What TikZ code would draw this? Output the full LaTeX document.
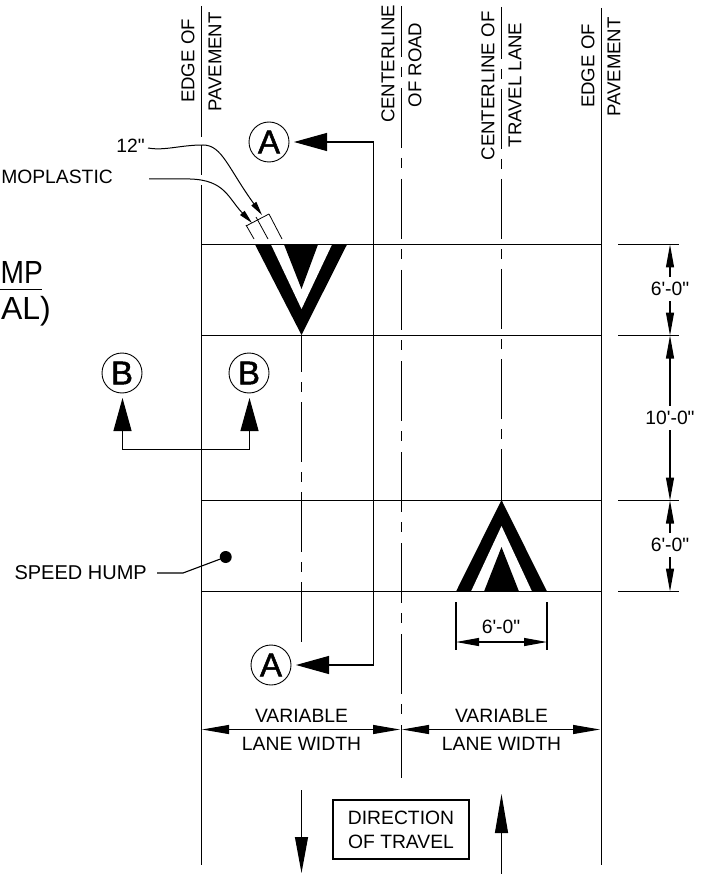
\documentclass[tikz,border=0pt]{standalone}
\usepackage{fontspec}
\setmainfont{Liberation Sans}
\newfontface\cutfont[FakeBold=1.5]{Liberation Sans}
\usetikzlibrary{arrows.meta}

\newcommand{\ft}{\textquotesingle}
\newcommand{\inch}{\textquotedbl}

\tikzset{
  lbl/.style={inner sep=0pt,font=\fontsize{19.3}{24}\selectfont,align=center},
  widelbl/.style={inner sep=0pt,font=\fontsize{20}{24}\selectfont},
  vlbl/.style={inner sep=0pt,rotate=90,font=\fontsize{18.6}{22}\selectfont},
  bigtext/.style={inner sep=0pt,font=\fontsize{32}{36}\selectfont},
  cutmark/.style={draw,circle,minimum size=40pt,inner sep=0pt,line width=.9pt,font=\fontsize{33}{36}\cutfont},
  cutline/.style={line width=1.1pt,-{Triangle[length=33pt,width=18pt]}},
  dimline/.style={line width=1.1pt,-{Triangle[length=23pt,width=8pt]}},
  varline/.style={line width=1.1pt,{Triangle[length=27pt,width=9pt]}-{Triangle[length=27pt,width=9pt]}},
  leader/.style={line width=1pt,-{Triangle[length=14pt,width=6pt]}},
  plain/.style={line width=1.1pt},
  cl/.style={line width=1.1pt,dash pattern=on 60pt off 10pt on 10pt off 10pt}
}

\begin{document}
\begin{tikzpicture}[x=1pt,y=-1pt]
      \useasboundingbox (0,0) rectangle (702,874);
      \fill[black] (255,244.5) -- (347,244.5) -- (301.5,335) -- cycle; %top chevron
      \fill[white] (271,244.5) -- (332,244.5) -- (301.5,309) -- cycle;
      \fill[black] (284,244.5) -- (318,244.5) -- (301.5,289) -- cycle;
      \fill[black] (456,591.5) -- (547,591.5) -- (501.5,500) -- cycle; %bottom chevron
      \fill[white] (471,591.5) -- (532,591.5) -- (501.5,526) -- cycle;
      \fill[black] (484,591.5) -- (519,591.5) -- (501.5,547) -- cycle;

      \draw[plain] (201.5,6) -- (201.5,137) (201.5,145) -- (201.5,175) (201.5,185) -- (201.5,865); %edges
      \draw[plain] (601.5,8) -- (601.5,865);
      \draw[cl,dash pattern=on 60pt off 10pt on 10pt off 11pt,dash phase=9pt] (401.5,6) -- (401.5,778); %centerlines
      \draw[cl,dash phase=8pt] (501.5,7) -- (501.5,503);
      \draw[cl,dash phase=23pt] (301.5,335) -- (301.5,643);
      \foreach \y in {244.5,335.5,500.5,591.5}{
        \draw[plain] (201.5,\y) -- (601.5,\y);
        \draw[plain] (618,\y) -- (679,\y);
      }

      \node[vlbl] (edgeA) at (188,61) {EDGE OF};
      \node[vlbl] (paveA) at (215,62) {PAVEMENT};
      \node[vlbl] (roadA) at (388,64) {CENTERLINE};
      \node[vlbl] (roadB) at (415,65) {OF ROAD};
      \node[vlbl] (laneA) at (488,86) {CENTERLINE OF};
      \node[vlbl] (laneB) at (515,85) {TRAVEL LANE};
      \node[vlbl] (edgeB) at (588,66) {EDGE OF};
      \node[vlbl] (paveB) at (614,67) {PAVEMENT};

      \node[lbl,anchor=east] (twelve) at (145,146) {12\inch};
      \node[lbl,anchor=east] (thermo) at (113,177) {MOPLASTIC};
      \node[bigtext,anchor=east,xscale=.88] (titleA) at (43,272) {MP};
      \node[bigtext,anchor=east] (titleB) at (51,311) {AL)};
      \draw[plain] (0,289.5) -- (42,289.5);

      \draw[leader] (148,148) .. controls (165,151) and (180,145) .. (203,145) .. controls (222,145) and (228,168) .. (262,215); %12 in
      \draw[leader] (149,179) -- (190,179) .. controls (225,180) and (228,198) .. (252,223);
      \draw[line width=.8pt] (246,226) -- (269,214);
      \draw[line width=.8pt] (246,225) -- (254,239);
      \draw[line width=.8pt] (256,217) -- (268,239);
      \draw[line width=.8pt] (269,214) -- (282,239);

      \node[cutmark] (A1) at (269,142) {A};
      \node[cutmark] (A2) at (271,665) {A};
      \node[cutmark] (B1) at (122,373) {B};
      \node[cutmark] (B2) at (249,373) {B};
      \coordinate (a1) at (294,142);
      \coordinate (a2) at (296,665);
      \coordinate (b1) at (122.5,398);
      \coordinate (b2) at (249.5,398);
      \draw[cutline] (373.5,142) -- (a1); %A-A
      \draw[cutline] (373.5,142) -- (373.5,665) -- (a2);
      \draw[cutline] (122.5,449.5) -- (b1); %B-B
      \draw[cutline] (122.5,449.5) -- (249.5,449.5) -- (b2);

      \node[lbl,inner sep=5pt] (dimA) at (670,289) {6\ft-0\inch};
      \node[lbl,inner sep=5pt] (dimB) at (670,418) {10\ft-0\inch};
      \node[lbl,inner sep=5pt] (dimC) at (670,545) {6\ft-0\inch};
      \coordinate (t0) at (670,244.5);
      \coordinate (t1) at (670,335.5);
      \coordinate (t2) at (670,500.5);
      \coordinate (t3) at (670,591.5);
      \draw[dimline] (dimA) -- (t0);
      \draw[dimline] (dimA) -- (t1);
      \draw[dimline] (dimB) -- (t1);
      \draw[dimline] (dimB) -- (t2);
      \draw[dimline] (dimC) -- (t2);
      \draw[dimline] (dimC) -- (t3);

      \node[lbl] (dimD) at (501,627) {6\ft-0\inch};
      \draw[plain] (456,602) -- (456,650);
      \draw[plain] (547,602) -- (547,650);
      \draw[dimline,{Triangle[length=23pt,width=8pt]}-{Triangle[length=23pt,width=8pt]}] (456,642) -- (547,642);

      \node[lbl] (varA) at (301.5,716) {VARIABLE};
      \node[lbl] (widA) at (301.5,744) {LANE WIDTH};
      \node[lbl] (varB) at (501.5,716) {VARIABLE};
      \node[lbl] (widB) at (501.5,744) {LANE WIDTH};
      \draw[varline] (202,729.5) -- (400,729.5);
      \draw[varline] (402,729.5) -- (600,729.5);

      \node[widelbl,anchor=east] (hump) at (147,573) {SPEED HUMP};
      \node[circle,fill=black,minimum size=12pt,inner sep=0pt] (dot) at (225.7,557) {};
      \coordinate (bend) at (183,573);
      \draw[plain] (hump.east) ++(10,0) -- (bend) -- (dot);

      \node[lbl,draw,line width=1.1pt,minimum width=136pt,minimum height=59pt] (travel) at (401,829.5) {DIRECTION\\OF TRAVEL};
      \draw[plain,-{Triangle[length=36pt,width=13pt]}] (301.5,790) -- (301.5,873);
      \draw[plain,-{Triangle[length=39pt,width=13pt]}] (501.5,874) -- (501.5,794);
    \end{tikzpicture}
\end{document}
